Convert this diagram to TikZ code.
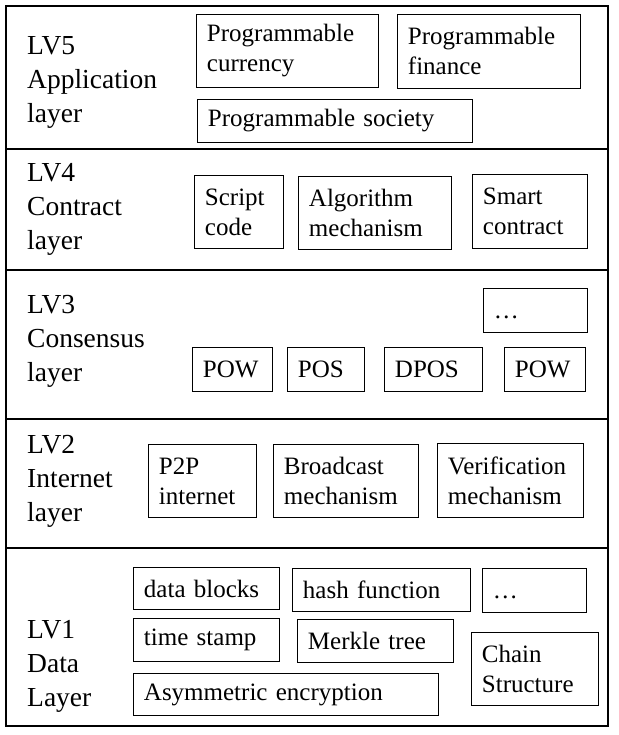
\documentclass[tikz,border=0pt]{standalone}
\usepackage{fontspec}
\setmainfont{Liberation Serif}
\begin{document}
\begin{tikzpicture}[x=1pt, y=-1pt, sep line/.style={line width=1.2pt},
    item/.style={draw, line width=0.9pt, anchor=north west, align=left, inner xsep=10.5pt, inner ysep=0pt, font=\fontsize{25}{30}\selectfont},
    layer label/.style={anchor=north west, align=left, inner sep=0pt, font=\fontsize{27.5}{34}\selectfont}]

    \useasboundingbox (0,0) rectangle (618,735);
    \draw[line width=2pt] (6,6) rectangle (608,726);
    \foreach \y in {149,270,419,548}
        \draw[sep line] (6,\y) -- (608,\y);

    \node[layer label] (lv5) at (27,36) {LV5\\Application\\layer};
    \node[item, text width=161pt, minimum height=73pt] (currency) at (196,14) {Programmable\\currency};
    \node[item, text width=162pt, minimum height=74pt] (finance) at (397,14) {Programmable\\finance};
    \node[item, text width=254pt, minimum height=43pt] (society) at (197,99) {Programmable society};

    \node[layer label] (lv4) at (27,163) {LV4\\Contract\\layer};
    \node[item, text width=68pt, minimum height=73pt] (script) at (194,175) {Script\\code};
    \node[item, text width=132pt, minimum height=73pt] (algorithm) at (298,176) {Algorithm\\mechanism};
    \node[item, text width=94pt, minimum height=74pt] (smart) at (472,174) {Smart\\contract};

    \node[layer label] (lv3) at (27,295) {LV3\\Consensus\\layer};
    \node[item, text width=83pt, minimum height=44pt] (moreconsensus) at (483,288) {\vphantom{P}…};
    \node[item, text width=59pt, minimum height=44pt] (pow) at (192,347) {POW};
    \node[item, text width=56pt, minimum height=44pt] (pos) at (287,347) {POS};
    \node[item, text width=77pt, minimum height=44pt] (dpos) at (384,347) {DPOS};
    \node[item, text width=60pt, minimum height=44pt] (powb) at (504,347) {POW};

    \node[layer label] (lv2) at (27,435) {LV2\\Internet\\layer};
    \node[item, text width=87pt, minimum height=73pt] (ptwop) at (148,444) {P2P\\internet};
    \node[item, text width=124pt, minimum height=73pt] (broadcast) at (273,444) {Broadcast\\mechanism};
    \node[item, text width=125pt, minimum height=74pt] (verification) at (437,443) {Verification\\mechanism};

    \node[layer label] (lv1) at (27,620) {LV1\\Data\\Layer};
    \node[item, text width=125pt, minimum height=42pt] (blocks) at (133,567) {data blocks};
    \node[item, text width=157pt, minimum height=43pt] (hash) at (292,568) {hash function};
    \node[item, text width=83pt, minimum height=44pt] (moredata) at (482,568) {\vphantom{P}…};
    \node[item, text width=125pt, minimum height=43pt] (stamp) at (133,618) {time stamp};
    \node[item, text width=135pt, minimum height=43pt] (merkle) at (297,619) {Merkle tree};
    \node[item, text width=106pt, minimum height=73pt] (chain) at (471,632) {Chain\\Structure};
    \node[item, text width=284pt, minimum height=42pt] (asym) at (133,673) {Asymmetric encryption};
\end{tikzpicture}
\end{document}
